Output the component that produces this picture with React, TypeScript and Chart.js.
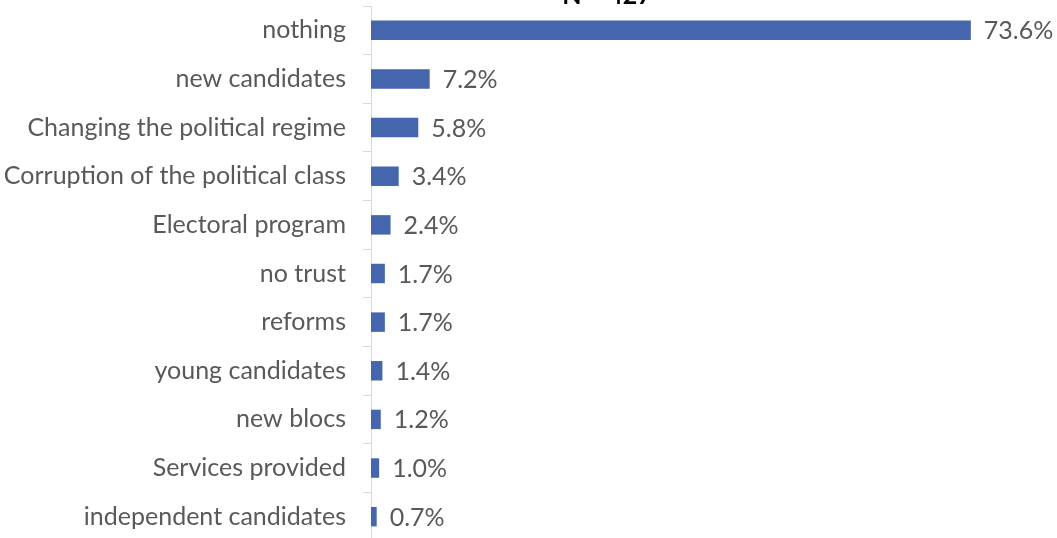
import React, { useEffect, useRef } from "react";
import { Chart, registerables } from "chart.js";

Chart.register(...registerables);

const categories = [
  "nothing",
  "new candidates",
  "Changing the political regime",
  "Corruption of the political class",
  "Electoral program",
  "no trust",
  "reforms",
  "young candidates",
  "new blocs",
  "Services provided",
  "independent candidates",
];
const values = [73.6, 7.2, 5.8, 3.4, 2.4, 1.7, 1.7, 1.4, 1.2, 1.0, 0.7];
const titleText = "N = 427";

const FONT = "Lato, 'Open Sans', sans-serif";
const TEXT = "#595959";
const BAR = "#4565AD";

export default function App() {
  const ref = useRef<HTMLCanvasElement | null>(null);
  useEffect(() => {
    if (!ref.current) return;
    const labelPlugin = {
      id: "valueLabels",
      afterDatasetsDraw(chart: any) {
        const ctx = chart.ctx;
        const meta = chart.getDatasetMeta(0);
        ctx.save();
        ctx.font = `25px ${FONT}`;
        ctx.fillStyle = TEXT;
        ctx.textAlign = "left";
        ctx.textBaseline = "middle";
        meta.data.forEach((el: any, i: number) => {
          ctx.fillText(values[i].toFixed(1) + "%", el.x + 13, el.y + 1);
        });
        ctx.restore();
      },
    };
    const titlePlugin = {
      id: "cutTitle",
      afterDraw(chart: any) {
        const ctx = chart.ctx;
        ctx.save();
        ctx.font = `bold 25px ${FONT}`;
        ctx.fillStyle = "#000000";
        ctx.textAlign = "center";
        ctx.textBaseline = "alphabetic";
        ctx.fillText(titleText, 607, 4);
        ctx.restore();
      },
    };
    const chart = new Chart(ref.current, {
      type: "bar",
      data: {
        labels: categories,
        datasets: [
          {
            data: values,
            backgroundColor: BAR,
            barPercentage: 0.4,
            categoryPercentage: 1,
          },
        ],
      },
      options: {
        indexAxis: "y",
        animation: false,
        responsive: false,
        maintainAspectRatio: false,
        layout: { padding: { left: 0, right: 34, top: 6, bottom: 0 } },
        plugins: {
          legend: { display: false },
          title: { display: false },
          tooltip: { enabled: false },
        },
        scales: {
          x: {
            display: false,
            min: 0,
            max: 80,
          },
          y: {
            afterFit(scale: any) {
              scale.width = 371;
              scale.paddingTop = 0;
              scale.paddingBottom = 0;
            },
            grid: {
              offset: true,
              drawOnChartArea: false,
              drawTicks: true,
              tickLength: 8,
              color: "#d9d9d9",
            },
            border: { display: true, color: "#d9d9d9", width: 1 },
            ticks: {
              padding: 17,
              color: TEXT,
              font: { family: FONT, size: 25 },
            },
          },
        },
      },
      plugins: [labelPlugin, titlePlugin],
    });
    return () => chart.destroy();
  }, []);
  return (
    <div style={{ position: "absolute", left: 0, top: 0, width: 1057, height: 541 }}>
      <canvas ref={ref} width={1057} height={541} />
    </div>
  );
}
